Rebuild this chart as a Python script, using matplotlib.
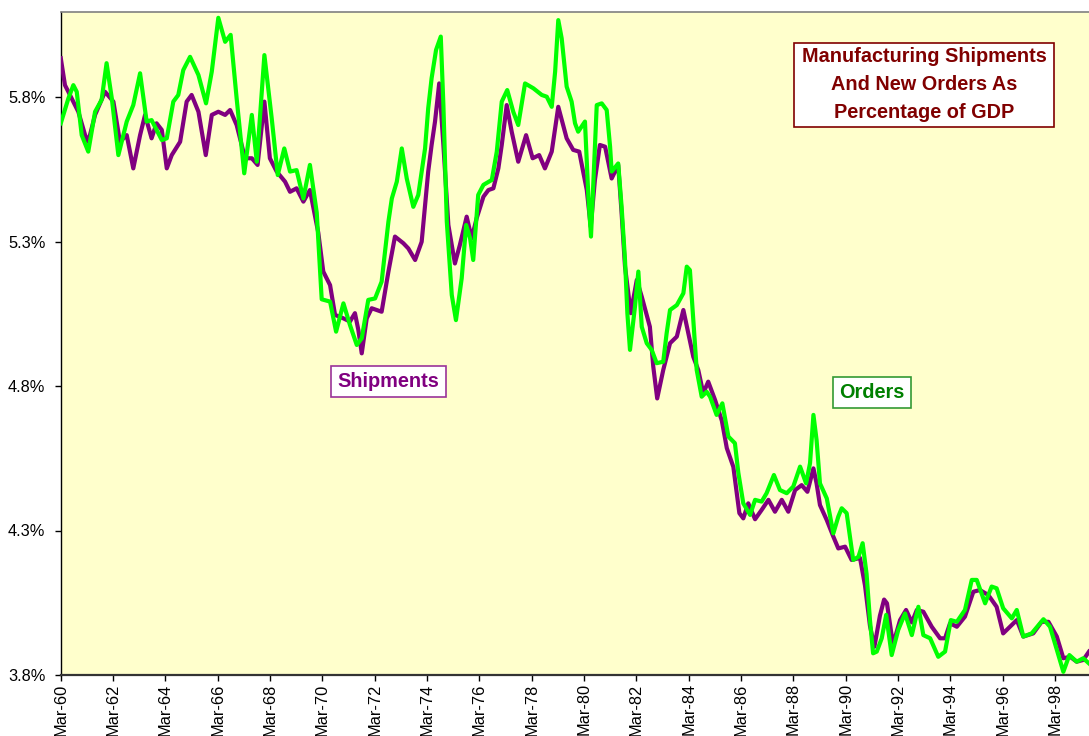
import matplotlib
matplotlib.use("Agg")
import matplotlib.pyplot as plt
from matplotlib.patches import Rectangle

plt.rcParams['font.family'] = ['Liberation Sans', 'DejaVu Sans']

# ---- data (decimal years, percent of GDP) ----
ship_t = [1960.17, 1960.33, 1960.46, 1960.84, 1961.10, 1961.22, 1961.48, 1961.86, 1962.18, 1962.43,
          1962.69, 1962.94, 1963.20, 1963.39, 1963.64, 1963.83, 1964.03, 1964.22, 1964.41, 1964.73,
          1964.98, 1965.17, 1965.43, 1965.71, 1965.94, 1966.19, 1966.45, 1966.64, 1966.89, 1967.21,
          1967.47, 1967.69, 1967.95, 1968.16, 1968.42, 1968.74, 1968.93, 1969.18, 1969.44, 1969.69,
          1970.01, 1970.20, 1970.46, 1970.65, 1970.97, 1971.22, 1971.41, 1971.54, 1971.67, 1971.86,
          1972.05, 1972.43, 1972.69, 1972.94, 1973.26, 1973.45, 1973.71, 1973.96, 1974.21, 1974.34,
          1974.47, 1974.63, 1974.79, 1974.98, 1975.23, 1975.42, 1975.68, 1975.87, 1976.06, 1976.32,
          1976.51, 1976.70, 1976.89, 1977.02, 1977.21, 1977.40, 1977.65, 1977.95, 1978.20, 1978.45,
          1978.67, 1978.93, 1979.18, 1979.50, 1979.75, 1979.98, 1980.27, 1980.42, 1980.58, 1980.77,
          1980.97, 1981.22, 1981.47, 1981.60, 1981.73, 1981.95, 1982.18, 1982.37, 1982.68, 1982.81,
          1982.96, 1983.19, 1983.45, 1983.71, 1983.96, 1984.15, 1984.34, 1984.53, 1984.72, 1984.91,
          1985.17, 1985.43, 1985.62, 1985.87, 1986.10, 1986.25, 1986.44, 1986.70, 1986.95, 1987.21,
          1987.46, 1987.72, 1987.97, 1988.23, 1988.48, 1988.70, 1988.93, 1989.05, 1989.18, 1989.44,
          1989.69, 1989.88, 1990.14, 1990.39, 1990.71, 1990.90, 1991.09, 1991.26, 1991.47, 1991.63,
          1991.74, 1991.97, 1992.24, 1992.47, 1992.69, 1992.88, 1993.13, 1993.45, 1993.77, 1993.96,
          1994.15, 1994.41, 1994.72, 1995.04, 1995.29, 1995.61, 1995.93, 1996.18, 1996.44, 1996.70,
          1996.95, 1997.33, 1997.65, 1997.91, 1998.23, 1998.48, 1998.74, 1998.99, 1999.24, 1999.46]
ship_v = [5.934, 5.841, 5.818, 5.749, 5.668, 5.645, 5.738, 5.818, 5.784, 5.645,
          5.668, 5.553, 5.668, 5.738, 5.657, 5.709, 5.686, 5.553, 5.599, 5.645,
          5.784, 5.807, 5.749, 5.599, 5.738, 5.749, 5.738, 5.755, 5.703, 5.588,
          5.588, 5.565, 5.784, 5.588, 5.542, 5.507, 5.472, 5.484, 5.438, 5.478,
          5.330, 5.196, 5.149, 5.046, 5.034, 5.023, 5.052, 4.994, 4.913, 5.034,
          5.069, 5.057, 5.196, 5.317, 5.294, 5.276, 5.236, 5.299, 5.542, 5.634,
          5.715, 5.847, 5.634, 5.357, 5.224, 5.288, 5.386, 5.311, 5.380, 5.455,
          5.478, 5.484, 5.553, 5.634, 5.772, 5.680, 5.576, 5.668, 5.588, 5.599,
          5.553, 5.611, 5.766, 5.657, 5.617, 5.611, 5.478, 5.351, 5.513, 5.634,
          5.628, 5.518, 5.565, 5.398, 5.213, 5.052, 5.167, 5.109, 5.005, 4.867,
          4.757, 4.855, 4.948, 4.971, 5.063, 4.982, 4.901, 4.855, 4.775, 4.815,
          4.752, 4.680, 4.585, 4.520, 4.360, 4.342, 4.394, 4.339, 4.371, 4.406,
          4.365, 4.406, 4.365, 4.440, 4.457, 4.434, 4.515, 4.463, 4.388, 4.336,
          4.279, 4.238, 4.244, 4.198, 4.205, 4.110, 3.970, 3.898, 4.005, 4.061,
          4.048, 3.905, 3.990, 4.025, 3.982, 4.025, 4.019, 3.967, 3.927, 3.927,
          3.979, 3.967, 4.002, 4.088, 4.094, 4.077, 4.036, 3.944, 3.967, 3.990,
          3.933, 3.944, 3.984, 3.984, 3.933, 3.858, 3.863, 3.846, 3.852, 3.881]

ord_t = [1960.17, 1960.46, 1960.65, 1960.78, 1960.97, 1961.22, 1961.48, 1961.73, 1961.92, 1962.12,
         1962.37, 1962.69, 1962.94, 1963.20, 1963.45, 1963.64, 1964.03, 1964.22, 1964.47, 1964.66,
         1964.85, 1965.11, 1965.43, 1965.72, 1965.94, 1966.19, 1966.45, 1966.66, 1966.89, 1967.18,
         1967.47, 1967.66, 1967.95, 1968.23, 1968.46, 1968.71, 1968.93, 1969.18, 1969.44, 1969.69,
         1969.95, 1970.14, 1970.46, 1970.69, 1970.97, 1971.22, 1971.48, 1971.67, 1971.92, 1972.18,
         1972.43, 1972.69, 1972.82, 1973.01, 1973.20, 1973.39, 1973.64, 1973.83, 1974.09, 1974.21,
         1974.34, 1974.51, 1974.69, 1974.79, 1974.92, 1975.11, 1975.27, 1975.49, 1975.66, 1975.81,
         1975.93, 1976.12, 1976.32, 1976.64, 1976.83, 1977.02, 1977.23, 1977.46, 1977.65, 1977.91,
         1978.23, 1978.55, 1978.74, 1978.93, 1979.06, 1979.18, 1979.31, 1979.50, 1979.69, 1979.82,
         1979.94, 1980.20, 1980.33, 1980.43, 1980.58, 1980.65, 1980.84, 1981.03, 1981.16, 1981.22,
         1981.47, 1981.60, 1981.73, 1981.82, 1981.92, 1982.11, 1982.24, 1982.37, 1982.56, 1982.75,
         1982.94, 1983.19, 1983.32, 1983.45, 1983.71, 1983.96, 1984.09, 1984.21, 1984.34, 1984.47,
         1984.66, 1984.85, 1984.98, 1985.23, 1985.45, 1985.68, 1985.93, 1986.06, 1986.25, 1986.51,
         1986.70, 1986.95, 1987.14, 1987.42, 1987.65, 1987.91, 1988.16, 1988.42, 1988.65, 1988.80,
         1988.93, 1989.05, 1989.18, 1989.44, 1989.69, 1989.88, 1990.01, 1990.20, 1990.45, 1990.65,
         1990.81, 1990.96, 1991.09, 1991.21, 1991.35, 1991.54, 1991.71, 1991.92, 1992.17, 1992.43,
         1992.69, 1992.94, 1993.13, 1993.39, 1993.70, 1993.96, 1994.18, 1994.41, 1994.72, 1994.98,
         1995.17, 1995.49, 1995.74, 1995.93, 1996.18, 1996.51, 1996.70, 1996.95, 1997.27, 1997.72,
         1997.97, 1998.23, 1998.48, 1998.71, 1998.99, 1999.24, 1999.46]
ord_v = [5.709, 5.795, 5.841, 5.818, 5.668, 5.611, 5.749, 5.790, 5.917, 5.795,
         5.599, 5.715, 5.772, 5.882, 5.715, 5.720, 5.651, 5.657, 5.784, 5.807,
         5.893, 5.939, 5.876, 5.778, 5.888, 6.074, 5.991, 6.015, 5.795, 5.536,
         5.738, 5.576, 5.945, 5.726, 5.530, 5.622, 5.542, 5.547, 5.449, 5.565,
         5.400, 5.100, 5.092, 4.988, 5.086, 5.011, 4.942, 4.965, 5.098, 5.103,
         5.161, 5.369, 5.449, 5.507, 5.622, 5.518, 5.420, 5.461, 5.622, 5.761,
         5.865, 5.963, 6.009, 5.772, 5.369, 5.115, 5.028, 5.173, 5.357, 5.311,
         5.236, 5.461, 5.496, 5.513, 5.611, 5.784, 5.824, 5.749, 5.703, 5.847,
         5.830, 5.807, 5.801, 5.766, 5.888, 6.066, 6.003, 5.836, 5.784, 5.709,
         5.680, 5.715, 5.455, 5.317, 5.628, 5.772, 5.778, 5.755, 5.628, 5.542,
         5.570, 5.420, 5.236, 5.052, 4.925, 5.074, 5.196, 5.005, 4.948, 4.925,
         4.879, 4.884, 4.982, 5.063, 5.080, 5.121, 5.213, 5.201, 5.028, 4.855,
         4.763, 4.780, 4.763, 4.700, 4.740, 4.625, 4.602, 4.500, 4.394, 4.354,
         4.406, 4.400, 4.429, 4.492, 4.440, 4.429, 4.452, 4.521, 4.463, 4.533,
         4.700, 4.613, 4.463, 4.411, 4.290, 4.348, 4.377, 4.360, 4.198, 4.209,
         4.256, 4.150, 3.990, 3.875, 3.881, 3.927, 4.008, 3.869, 3.956, 4.013,
         3.938, 4.036, 3.938, 3.927, 3.863, 3.881, 3.990, 3.984, 4.025, 4.129,
         4.129, 4.048, 4.106, 4.100, 4.031, 3.996, 4.025, 3.933, 3.944, 3.993,
         3.967, 3.887, 3.811, 3.869, 3.846, 3.858, 3.840]

tick_years = list(range(1960, 1999, 2))
tick_labels = ["Mar-%02d" % (y % 100) for y in tick_years]
y_ticks = [3.8, 4.3, 4.8, 5.3, 5.8]

title_text = "Manufacturing Shipments\nAnd New Orders As\nPercentage of GDP"

# ---- figure ----
W, H = 1089, 736
fig = plt.figure(figsize=(W / 100, H / 100), dpi=100)
fig.patch.set_facecolor("white")

ax_left, ax_right, ax_top, ax_bottom = 60.7, 1089.0, 11.7, 675.0
ax = fig.add_axes([ax_left / W, 1 - ax_bottom / H, (ax_right - ax_left) / W, (ax_bottom - ax_top) / H])
ax.set_facecolor("#FFFFCC")

ax.plot(ship_t, ship_v, color="#800080", lw=3.0, solid_joinstyle="round", zorder=3)
ax.plot(ord_t, ord_v, color="#00FF00", lw=3.0, solid_joinstyle="round", zorder=4)

ax.set_xlim(1960 + 2 / 12, 1999.46)
ax.set_ylim(3.8, 3.8 + (ax_bottom - ax_top) / 289.0)

ax.set_xticks([y + 2 / 12 for y in tick_years])
ax.set_xticklabels(tick_labels, rotation=90, fontsize=11.8, va="top")
ax.set_yticks(y_ticks)
ax.set_yticklabels(["%.1f%%" % v for v in y_ticks], fontsize=11.8)

ax.tick_params(axis="x", direction="out", length=4, width=1, pad=2, colors="black")
ax.tick_params(axis="y", direction="out", length=4, width=1, pad=7, colors="black")

ax.spines["right"].set_visible(False)
ax.spines["top"].set_color("#808080")
ax.spines["top"].set_linewidth(1.2)
ax.spines["left"].set_color("black")
ax.spines["left"].set_linewidth(1.0)
ax.spines["bottom"].set_color("#333333")
ax.spines["bottom"].set_linewidth(1.6)


def box(x0, y0, x1, y1, edge, lw=1.0):
    r = Rectangle((x0 / W, 1 - y1 / H), (x1 - x0) / W, (y1 - y0) / H,
                  transform=fig.transFigure, facecolor="white", edgecolor=edge,
                  linewidth=lw, zorder=5)
    fig.add_artist(r)


# title box
box(794, 42.7, 1054, 126.7, "#800000", 1.2)
fig.text(924 / W, 1 - 84.7 / H, title_text, ha="center", va="center",
         fontsize=14.3, fontweight="bold", color="#800000", linespacing=1.62, zorder=6)

# Shipments label
box(330.7, 366, 446, 396.7, "#993399", 1.2)
fig.text(388.3 / W, 1 - 381.6 / H, "Shipments", ha="center", va="center",
         fontsize=14.3, fontweight="bold", color="#800080", zorder=6)

# Orders label
box(833.3, 377.3, 911, 408.3, "#339933", 1.2)
fig.text(872.2 / W, 1 - 393 / H, "Orders", ha="center", va="center",
         fontsize=14.3, fontweight="bold", color="#008000", zorder=6)

fig.savefig("out.png", dpi=100, facecolor="white")
